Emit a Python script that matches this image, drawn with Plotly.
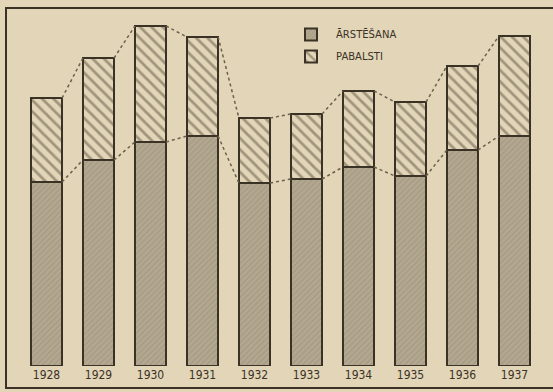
import plotly.graph_objects as go

years = [1928, 1929, 1930, 1931, 1932, 1933, 1934, 1935, 1936, 1937]
tick_labels = ["1928", "1929", "1930", "1931", "1932", "1933", "1934", "1935", "1936", "1937"]
arstesana = [184, 206, 224, 230, 183, 187, 199, 190, 216, 230]
pabalsti = [84, 102, 116, 99, 65, 65, 76, 74, 84, 100]

totals = [a + p for a, p in zip(arstesana, pabalsti)]
bw = 0.6
ink = "#3b3226"
paper = "#e2d5b8"

fig = go.Figure()
fig.add_bar(
    x=years, y=arstesana, name="ĀRSTĒŠANA", width=bw, legendgroup="a",
    marker=dict(color="#b3a88f", line=dict(color=ink, width=2),
                pattern=dict(shape="/", fgcolor="#8c826d", size=4, solidity=0.25)),
)
fig.add_bar(
    x=years, y=pabalsti, name="PABALSTI", width=bw, legendgroup="b",
    marker=dict(color=paper, line=dict(color=ink, width=2),
                pattern=dict(shape="\\", fgcolor="#5e5341", size=8, solidity=0.35)),
)

def connector(vals):
    xs, ys = [], []
    for i in range(len(years) - 1):
        xs += [years[i] + bw / 2, years[i + 1] - bw / 2, None]
        ys += [vals[i], vals[i + 1], None]
    return xs, ys

for vals in (totals, arstesana):
    xs, ys = connector(vals)
    fig.add_scatter(x=xs, y=ys, mode="lines", showlegend=False, hoverinfo="skip",
                    line=dict(color="#6b604c", width=1.5, dash="dot"))

W, H = 553, 392
b = 26
ph = H - b
fig.add_shape(type="rect", xref="paper", yref="paper",
              x0=6 / W, x1=1.02, y0=(ph - 388) / ph, y1=(ph - 8) / ph,
              line=dict(color=ink, width=2), layer="below")

fig.update_layout(
    width=W, height=H,
    margin=dict(l=0, r=0, t=0, b=b),
    barmode="stack",
    paper_bgcolor=paper, plot_bgcolor=paper,
    xaxis=dict(range=[1928 - 46.5 / 52, 1928 - 46.5 / 52 + W / 52],
               tickvals=years, ticktext=tick_labels, showgrid=False, zeroline=False,
               showline=False, ticks="", ticklen=0,
               tickfont=dict(family="Liberation Sans Narrow, DejaVu Sans Condensed, sans-serif",
                             size=12, color=ink)),
    yaxis=dict(range=[0, ph], visible=False, showgrid=False, zeroline=False),
    legend=dict(x=286 / W, y=(ph - 20) / ph, xanchor="left", yanchor="top",
                traceorder="grouped", bgcolor="rgba(0,0,0,0)",
                font=dict(family="DejaVu Sans, sans-serif", size=10, color=ink),
                itemwidth=40, tracegroupgap=3),
    showlegend=True,
)

fig.write_html("out.html", config={"displayModeBar": False},
               post_script="document.body.style.margin='0';document.body.style.padding='0';"
                           "document.body.style.background='" + paper + "';")
